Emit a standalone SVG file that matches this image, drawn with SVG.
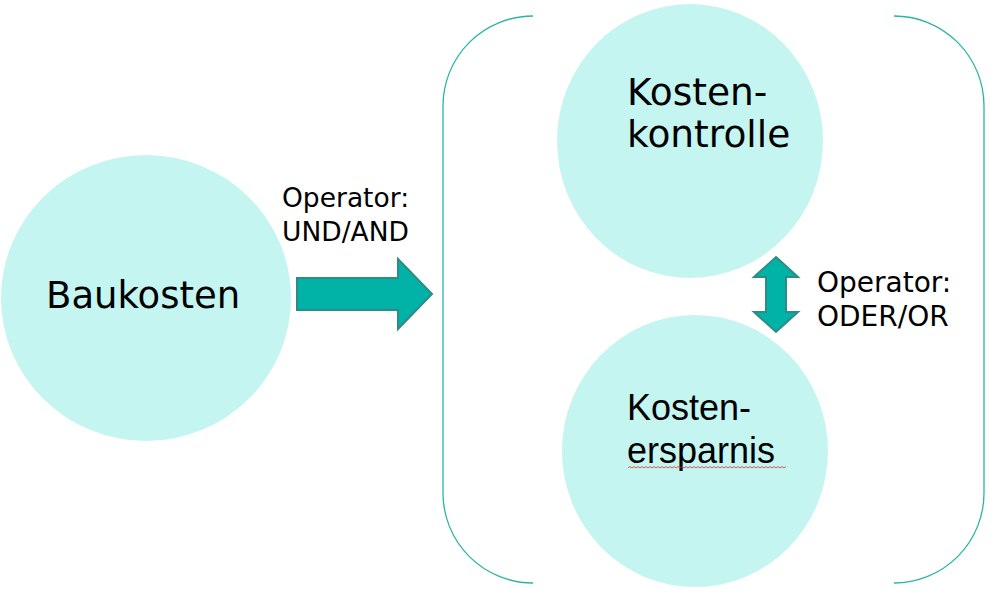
<svg xmlns="http://www.w3.org/2000/svg" width="995" height="598" viewBox="0 0 995 598">
<style>
.c{fill:#C4F5F1;stroke:none}
.t{font-family:"DejaVu Sans",Verdana,sans-serif;fill:#000}
.a{font-family:"Liberation Sans",Arial,sans-serif;fill:#000}
.arr{fill:#00B3A6;stroke:#2E8C86;stroke-width:2;stroke-linejoin:miter}
.br{fill:none;stroke:#2BB3A8;stroke-width:1.3}
</style>
<rect width="995" height="598" fill="#fff"/>
<g id="brackets">
<path class="br" d="M533 16 A90 90 0 0 0 443 106 L443 493 A90 90 0 0 0 533 583"/>
<path class="br" d="M894 16 A90 90 0 0 1 984 106 L984 493 A90 90 0 0 1 894 583"/>
</g>
<g id="baukosten">
<ellipse class="c" cx="146" cy="298" rx="145" ry="143"/>
<text class="t" x="46" y="308" font-size="37">Baukosten</text>
</g>
<g id="kostenkontrolle">
<ellipse class="c" cx="690" cy="141" rx="133" ry="137"/>
<text class="t" x="627" y="105" font-size="37.5">Kosten-</text>
<text class="t" x="627" y="147" font-size="37.5">kontrolle</text>
</g>
<g id="kostenersparnis">
<ellipse class="c" cx="695" cy="451" rx="133" ry="136"/>
<text class="a" x="627" y="420" font-size="36">Kosten-</text>
<text class="a" x="627" y="463" font-size="36">ersparnis</text>
<path d="M628 468 l2 -1.5 l2 1.5 l2 -1.5 l2 1.5 l2 -1.5 l2 1.5 l2 -1.5 l2 1.5 l2 -1.5 l2 1.5 l2 -1.5 l2 1.5 l2 -1.5 l2 1.5 l2 -1.5 l2 1.5 l2 -1.5 l2 1.5 l2 -1.5 l2 1.5 l2 -1.5 l2 1.5 l2 -1.5 l2 1.5 l2 -1.5 l2 1.5 l2 -1.5 l2 1.5 l2 -1.5 l2 1.5 l2 -1.5 l2 1.5 l2 -1.5 l2 1.5 l2 -1.5 l2 1.5 l2 -1.5 l2 1.5 l2 -1.5 l2 1.5 l2 -1.5 l2 1.5 l2 -1.5 l2 1.5 l2 -1.5 l2 1.5 l2 -1.5 l2 1.5 l2 -1.5 l2 1.5 l2 -1.5 l2 1.5 l2 -1.5 l2 1.5 l2 -1.5 l2 1.5 l2 -1.5 l2 1.5 l2 -1.5 l2 1.5 l2 -1.5 l2 1.5 l2 -1.5 l2 1.5 l2 -1.5 l2 1.5 l2 -1.5 l2 1.5 l2 -1.5 l2 1.5 l2 -1.5 l2 1.5 l2 -1.5 l2 1.5 l2 -1.5 l2 1.5 l2 -1.5 l2 1.5 l2 -1.5" fill="none" stroke="#E03030" stroke-width="0.8"/>
</g>
<g id="connectors">
<path class="arr" d="M297 278 L398 278 L398 259 L432 294 L398 329 L398 310 L297 310 Z"/>
<path class="arr" d="M776 257 L798 277 L786 277 L786 312 L798 312 L776 332 L754 312 L766 312 L766 277 L754 277 Z"/>
<text class="t" x="282" y="207" font-size="26.5">Operator:</text>
<text class="t" x="282" y="241" font-size="26.5">UND/AND</text>
<text class="t" x="817" y="292" font-size="28">Operator:</text>
<text class="t" x="817" y="326" font-size="28">ODER/OR</text>
</g>
</svg>
